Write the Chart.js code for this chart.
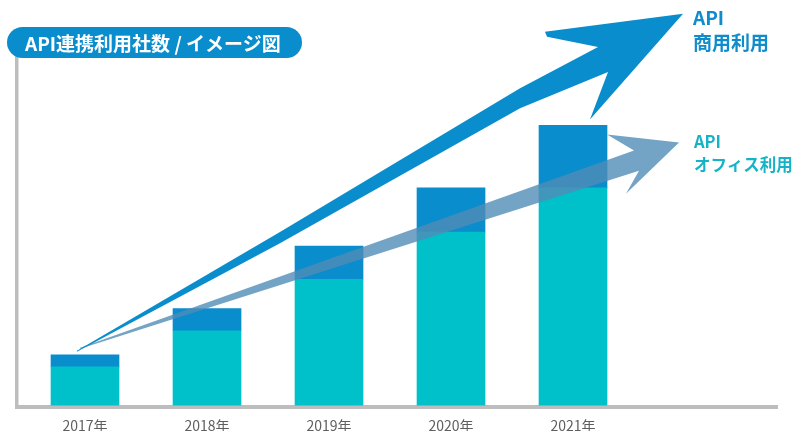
<!DOCTYPE html>
<html lang="ja">
<head>
<meta charset="utf-8">
<script src="https://cdn.jsdelivr.net/npm/chart.js@4/dist/chart.umd.min.js"></script>
<style>
  html, body { margin: 0; padding: 0; background: #fff; }
  #wrap { position: relative; width: 796px; height: 431px; font-family: "Noto Sans CJK JP", "Noto Sans", sans-serif; }
  #chart { position: absolute; left: 0; top: 0; }
  .badge {
    position: absolute; left: 7px; top: 27px; width: 295px; height: 31px;
    border-radius: 16px; background: #0a8dcc; color: #fff;
    font-weight: 700; font-size: 19px; line-height: 31px; box-sizing: border-box; padding-left: 18px;
    white-space: nowrap;
  }
  .lbl { position: absolute; font-weight: 700; white-space: nowrap; }
  .lbl1 { left: 693px; top: 4px; color: #0e8ccb; font-size: 19px; line-height: 25px; }
  .lbl2 { left: 694px; top: 130px; color: #16b3c6; font-size: 16.5px; line-height: 23px; }
</style>
</head>
<body>
<div id="wrap">
  <canvas id="chart" width="796" height="431"></canvas>
  <div class="badge">API連携利用社数 / イメージ図</div>
  <div class="lbl lbl1">API<br>商用利用</div>
  <div class="lbl lbl2">API<br>オフィス利用</div>
</div>
<script>
// values (image index, no scale shown)
const years = ['2017年', '2018年', '2019年', '2020年', '2021年'];
const officeUse = [38, 74, 125, 172, 216];   // teal, bottom part
const commercialUse = [12, 22, 33, 44, 62];  // blue, top part

// arrow outlines in data units: [category index, value]
const bigArrow = [
    [-0.066, 54], [1.598, 172], [3.566, 315], [4.205, 356], [3.787, 366], [3.770, 371],
    [4.902, 389], [4.139, 284], [4.287, 331], [3.566, 295], [1.598, 161], [-0.066, 53]
];
const smallArrow = [
    [-0.041, 57], [4.5, 253], [4.279, 269], [4.869, 261], [4.434, 210], [4.541, 233], [-0.041, 56]
];

const teal = 'rgb(0, 192, 202)';
const blue = 'rgb(9, 141, 205)';

function toPx(chart, pts) {
    const xs = chart.scales.x, ys = chart.scales.y;
    return pts.map(p => [xs.getPixelForValue(p[0]), ys.getPixelForValue(p[1])]);
}

function fillPoly(ctx, pts, color) {
    ctx.beginPath();
    pts.forEach((p, i) => i ? ctx.lineTo(p[0], p[1]) : ctx.moveTo(p[0], p[1]));
    ctx.closePath();
    ctx.fillStyle = color;
    ctx.fill();
}

const arrowPlugin = {
    id: 'arrows',
    afterDatasetsDraw(chart) {
        const ctx = chart.ctx;
        ctx.save();
        fillPoly(ctx, toPx(chart, smallArrow), 'rgba(80, 140, 182, 0.8)');
        fillPoly(ctx, toPx(chart, bigArrow), blue);
        ctx.restore();
    }
};

new Chart(document.getElementById('chart'), {
    type: 'bar',
    data: {
        datasets: [
            {
                label: 'オフィス利用',
                data: officeUse.map((v, i) => ({x: i, y: v})),
                backgroundColor: teal,
                barThickness: 68
            },
            {
                label: '商用利用',
                data: commercialUse.map((v, i) => ({x: i, y: v})),
                backgroundColor: blue,
                barThickness: 68
            }
        ]
    },
    options: {
        responsive: false,
        animation: false,
        devicePixelRatio: 1,
        layout: {padding: {left: 16.5, right: 19, top: 58, bottom: -13}},
        plugins: {
            legend: {display: false},
            tooltip: {enabled: false}
        },
        scales: {
            x: {
                type: 'linear',
                stacked: true,
                offset: false,
                min: -0.5615,
                max: 5.672,
                afterBuildTicks: scale => { scale.ticks = years.map((y, i) => ({value: i})); },
                grid: {display: false, drawTicks: false, offset: false},
                border: {display: true, color: '#bdbdbd', width: 4},
                ticks: {
                    autoSkip: false,
                    maxRotation: 0,
                    padding: 10,
                    color: '#5f5f5f',
                    font: {family: '"Noto Sans CJK JP", sans-serif', size: 14},
                    callback: v => years[v] || ''
                }
            },
            y: {
                stacked: true,
                min: -2,
                max: 345,
                grid: {display: false, drawTicks: false},
                border: {display: true, color: '#bdbdbd', width: 3.5},
                ticks: {display: false}
            }
        }
    },
    plugins: [arrowPlugin]
});
</script>
</body>
</html>
